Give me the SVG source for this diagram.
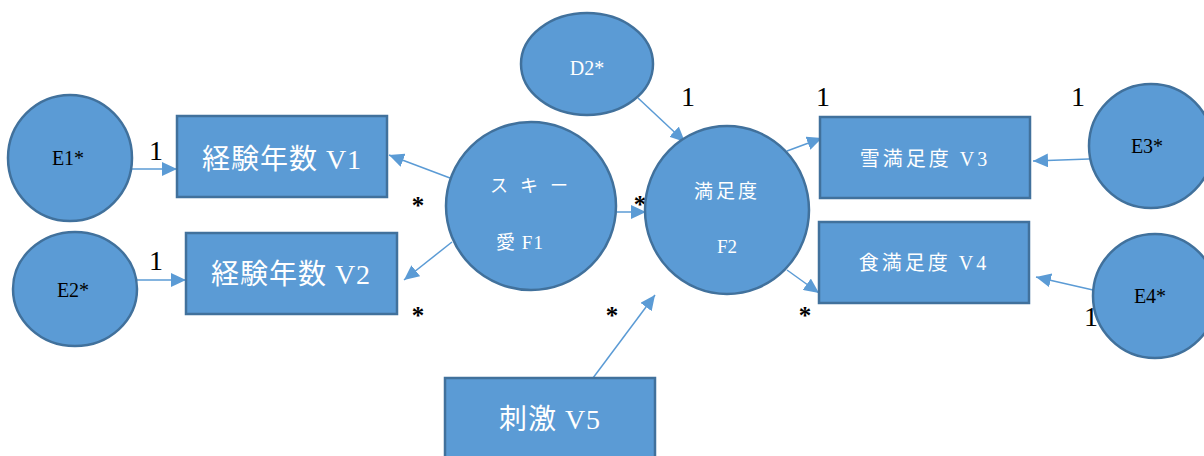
<svg xmlns="http://www.w3.org/2000/svg" width="1204" height="456" viewBox="0 0 1204 456">
<style>
.n{fill:#5B9BD5;stroke:#41719C;stroke-width:2.5}
.c{stroke:#5B9BD5;stroke-width:1.5;fill:none;marker-end:url(#ah)}
.w{fill:#fff;font-family:"Liberation Serif","Noto Sans CJK JP",serif;text-anchor:middle}
.k{fill:#000;font-family:"Liberation Serif","Noto Sans CJK JP",serif;text-anchor:middle}
.lbl{fill:#000;font-family:"Liberation Serif",serif;font-size:28px;text-anchor:middle}
.ast{fill:#000;font-family:"Liberation Serif",serif;font-size:25px;font-weight:bold;text-anchor:middle}
</style>
<defs>
<marker id="ah" markerUnits="userSpaceOnUse" markerWidth="16" markerHeight="14" refX="15" refY="7" orient="auto">
<path d="M0,0 L15,7 L0,14 Z" fill="#5B9BD5"/>
</marker>
</defs>
<g id="connectors">
<line class="c" x1="131" y1="169" x2="177" y2="169"/>
<line class="c" x1="137" y1="280" x2="186" y2="280"/>
<line class="c" x1="450" y1="178" x2="389" y2="155"/>
<line class="c" x1="452" y1="242" x2="404" y2="280"/>
<line class="c" x1="617" y1="212" x2="646" y2="212"/>
<line class="c" x1="638" y1="98" x2="685" y2="142"/>
<line class="c" x1="593" y1="378" x2="655" y2="295"/>
<line class="c" x1="787" y1="151" x2="822" y2="138"/>
<line class="c" x1="787" y1="270" x2="819" y2="293"/>
<line class="c" x1="1089" y1="159" x2="1033" y2="161"/>
<line class="c" x1="1093" y1="290" x2="1036" y2="277"/>
</g>
<g id="labels">
<text class="lbl" x="156" y="160">1</text>
<text class="lbl" x="156" y="270">1</text>
<text class="lbl" x="688" y="106">1</text>
<text class="lbl" x="823" y="106">1</text>
<text class="lbl" x="1078" y="106">1</text>
<text class="lbl" x="1091" y="326">1</text>
<text class="ast" x="418" y="214">*</text>
<text class="ast" x="418" y="324">*</text>
<text class="ast" x="640" y="213">*</text>
<text class="ast" x="612" y="324">*</text>
<text class="ast" x="805" y="324">*</text>
</g>
<g id="E1"><ellipse class="n" cx="70" cy="158" rx="62" ry="63"/><text class="k" x="68" y="165" font-size="20">E1*</text></g>
<g id="E2"><ellipse class="n" cx="75" cy="289" rx="62" ry="57"/><text class="k" x="73" y="297" font-size="20">E2*</text></g>
<g id="V1"><rect class="n" x="177" y="116" width="210" height="81"/><text class="w" x="282" y="169" font-size="28" letter-spacing="1">経験年数 V1</text></g>
<g id="V2"><rect class="n" x="186" y="233" width="211" height="81"/><text class="w" x="291" y="284" font-size="28" letter-spacing="1">経験年数 V2</text></g>
<g id="F1"><ellipse class="n" cx="531" cy="206" rx="85" ry="84"/><text class="w" x="535" y="192" font-size="18" letter-spacing="12">スキー</text><text class="w" x="520" y="249" font-size="19" letter-spacing="1">愛 F1</text></g>
<g id="D2"><ellipse class="n" cx="587" cy="64" rx="66" ry="51"/><text class="w" x="587" y="75" font-size="20">D2*</text></g>
<g id="F2"><ellipse class="n" cx="727" cy="210" rx="82" ry="84"/><text class="w" x="727" y="198" font-size="19" letter-spacing="3">満足度</text><text class="w" x="727" y="253" font-size="19">F2</text></g>
<g id="V5"><rect class="n" x="445" y="378" width="210" height="81"/><text class="w" x="550" y="429" font-size="28" letter-spacing="1">刺激 V5</text></g>
<g id="V3"><rect class="n" x="820" y="117" width="210" height="81"/><text class="w" x="925" y="166" font-size="20" letter-spacing="3">雪満足度 V3</text></g>
<g id="V4"><rect class="n" x="819" y="222" width="210" height="81"/><text class="w" x="924" y="270" font-size="20" letter-spacing="3">食満足度 V4</text></g>
<g id="E3"><ellipse class="n" cx="1151" cy="146" rx="62" ry="62"/><text class="k" x="1147" y="153" font-size="20">E3*</text></g>
<g id="E4"><ellipse class="n" cx="1155" cy="296" rx="62" ry="62"/><text class="k" x="1150" y="303" font-size="20">E4*</text></g>
</svg>
